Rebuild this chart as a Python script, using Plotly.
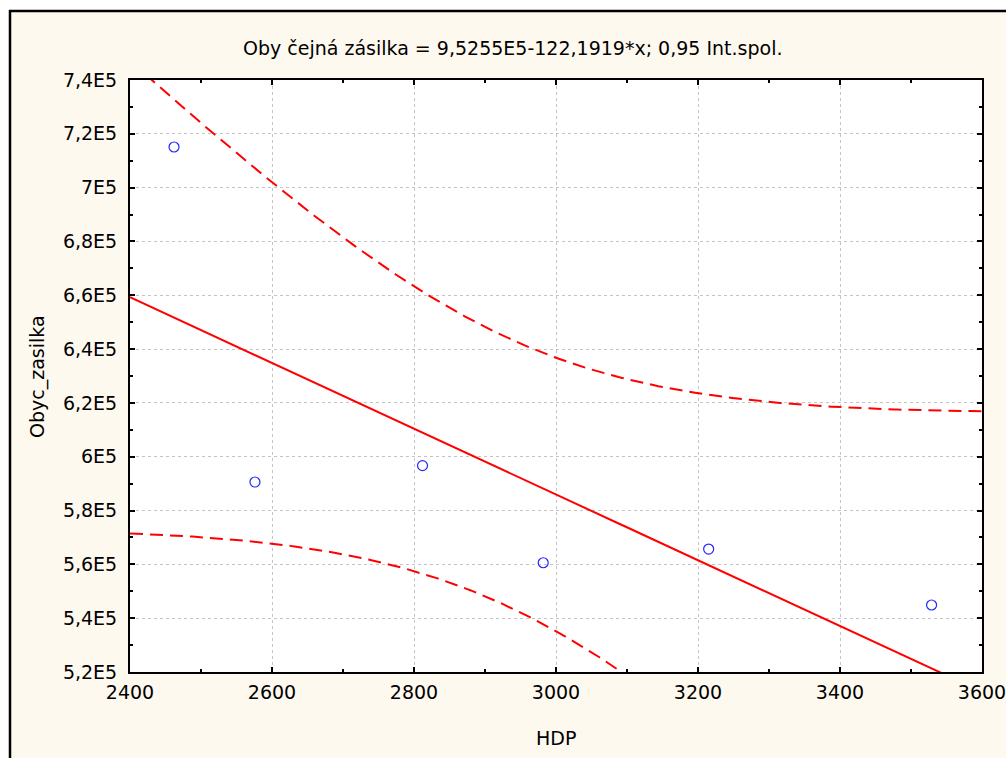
import numpy as np
import plotly.graph_objects as go

# Observations: HDP vs. Obyc_zasilka
hdp = [2462, 2576, 2812, 2982, 3215, 3529]
obyc_zasilka = [715100, 590600, 596700, 560600, 565700, 544900]

# Regression coefficients as printed in the title
intercept = 9.5255e5
slope = -122.1919
t_crit = 2.7764  # t(0.975, df = n - 2 = 4)

x_ticks = [2400, 2600, 2800, 3000, 3200, 3400, 3600]
x_tick_text = ["2400", "2600", "2800", "3000", "3200", "3400", "3600"]
y_ticks = [520000, 540000, 560000, 580000, 600000, 620000, 640000,
           660000, 680000, 700000, 720000, 740000]
y_tick_text = ["5,2E5", "5,4E5", "5,6E5", "5,8E5", "6E5", "6,2E5", "6,4E5",
               "6,6E5", "6,8E5", "7E5", "7,2E5", "7,4E5"]

# Fitted line and 0.95 confidence band of the mean
x = np.asarray(hdp, dtype=float)
y = np.asarray(obyc_zasilka, dtype=float)
n = len(x)
resid = y - (intercept + slope * x)
s = np.sqrt(np.sum(resid ** 2) / (n - 2))
sxx = np.sum((x - x.mean()) ** 2)

xg = np.linspace(2400, 3600, 301)
yg = intercept + slope * xg
half = t_crit * s * np.sqrt(1.0 / n + (xg - x.mean()) ** 2 / sxx)

FONT = "DejaVu Sans, Verdana, sans-serif"
FS = 19
RED = "#FF0000"
CREAM = "#FEF9EE"

# plot-area geometry in pixels
W, H = 1006, 758
L, R, T, B = 130, 24, 80, 86
PW, PH = W - L - R, H - T - B


def px(xp):
    return (xp - L) / PW


def py(yp):
    return (H - B - yp) / PH


fig = go.Figure()
fig.add_trace(go.Scatter(x=xg, y=yg, mode="lines",
                         line=dict(color=RED, width=2), hoverinfo="skip"))
fig.add_trace(go.Scatter(x=xg, y=yg + half, mode="lines",
                         line=dict(color=RED, width=2, dash="13px,7px"), hoverinfo="skip"))
fig.add_trace(go.Scatter(x=xg, y=yg - half, mode="lines",
                         line=dict(color=RED, width=2, dash="13px,7px"), hoverinfo="skip"))
fig.add_trace(go.Scatter(x=hdp, y=obyc_zasilka, mode="markers",
                         marker=dict(symbol="circle-open", size=10,
                                     color="#2626FF", line=dict(width=1.2))))

# White margin strips on top and left, black frame lines
fig.add_shape(type="rect", xref="paper", yref="paper",
              x0=px(-5), x1=px(W + 5), y0=py(10), y1=py(-5),
              fillcolor="white", line=dict(width=0), layer="above")
fig.add_shape(type="rect", xref="paper", yref="paper",
              x0=px(-5), x1=px(9), y0=py(H + 5), y1=py(-5),
              fillcolor="white", line=dict(width=0), layer="above")
fig.add_shape(type="line", xref="paper", yref="paper",
              x0=px(9), x1=px(W + 5), y0=py(11), y1=py(11),
              line=dict(color="black", width=2.5), layer="above")
fig.add_shape(type="line", xref="paper", yref="paper",
              x0=px(10), x1=px(10), y0=py(10), y1=py(H + 5),
              line=dict(color="black", width=2.5), layer="above")

fig.update_layout(
    width=W, height=H,
    margin=dict(l=L, r=R, t=T, b=B),
    paper_bgcolor=CREAM, plot_bgcolor="white",
    showlegend=False,
    font=dict(family=FONT, size=FS, color="black"),
    annotations=[
        dict(text="Oby čejná zásilka = 9,5255E5-122,1919*x; 0,95 Int.spol.",
             xref="paper", yref="paper", x=px(512), y=py(48),
             showarrow=False, xanchor="center", yanchor="middle",
             font=dict(family=FONT, size=FS, color="black")),
        dict(text="HDP", xref="paper", yref="paper", x=px(556), y=py(738),
             showarrow=False, xanchor="center", yanchor="middle",
             font=dict(family=FONT, size=FS, color="black")),
        dict(text="Obyc_zasilka", xref="paper", yref="paper", x=px(37), y=py(377),
             showarrow=False, xanchor="center", yanchor="middle", textangle=-90,
             font=dict(family=FONT, size=FS, color="black")),
    ],
)

axis_common = dict(
    showline=True, linecolor="black", linewidth=2, mirror="ticks",
    ticks="inside", ticklen=5, tickwidth=2, tickcolor="black",
    showgrid=True, gridcolor="#C4C4C4", gridwidth=1, griddash="dot",
    zeroline=False, automargin=False, ticklabeloverflow="allow",
    tickfont=dict(family=FONT, size=FS, color="black"),
)

fig.update_xaxes(
    range=[2400, 3600], tickvals=x_ticks, ticktext=x_tick_text,
    ticklabelstandoff=2,
    minor=dict(ticks="inside", dtick=100, tick0=2400, ticklen=3,
               tickwidth=2, tickcolor="black", showgrid=False),
    **axis_common,
)
fig.update_yaxes(
    range=[520000, 740000], tickvals=y_ticks, ticktext=y_tick_text,
    ticklabelstandoff=7,
    minor=dict(ticks="inside", dtick=10000, tick0=520000, ticklen=3,
               tickwidth=2, tickcolor="black", showgrid=False),
    **axis_common,
)

fig.write_html("out.html")
